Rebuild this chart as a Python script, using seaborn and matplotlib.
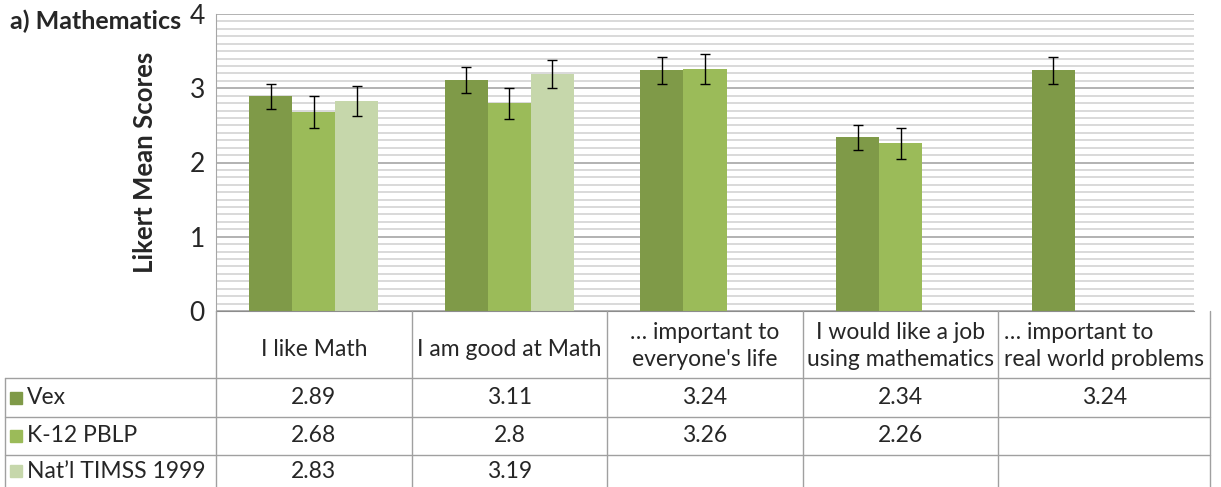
import numpy as np
import pandas as pd
import matplotlib.pyplot as plt
from matplotlib.ticker import MultipleLocator
import seaborn as sns

# Datos
categories = ["I like Math", "I am good at Math", "… important to\neveryone's life",
              "I would like a job\nusing mathematics", "… important to\nreal world problems"]
series = ["Vex", "K-12 PBLP", "Nat’l TIMSS 1999"]
vex = [2.89, 3.11, 3.24, 2.34, 3.24]
k12 = [2.68, 2.8, 3.26, 2.26, np.nan]
timss = [2.83, 3.19, np.nan, np.nan, np.nan]
vex_err = [0.17, 0.17, 0.18, 0.17, 0.18]
k12_err = [0.22, 0.21, 0.20, 0.21, np.nan]
timss_err = [0.20, 0.19, np.nan, np.nan, np.nan]
table_text = [["2.89", "3.11", "3.24", "2.34", "3.24"],
              ["2.68", "2.8", "3.26", "2.26", ""],
              ["2.83", "3.19", "", "", ""]]
colors = ["#7f9a48", "#9bbb59", "#c6d7ab"]

sns.set_style("white")
plt.rcParams["font.family"] = ["Lato", "DejaVu Sans"]

df = pd.DataFrame({
    "category": categories * 3,
    "series": np.repeat(series, len(categories)),
    "score": vex + k12 + timss,
}).dropna()

W, H = 1221, 487
fig = plt.figure(figsize=(W / 100, H / 100), dpi=100)
ax = fig.add_axes([216 / W, 1 - 311 / H, 978 / W, 297 / H])

sns.barplot(data=df, x="category", y="score", hue="series", order=categories,
            hue_order=series, palette=colors, width=0.66, errorbar=None,
            saturation=1, legend=False, linewidth=0, ax=ax)

# Barras de error
errs = dict(zip(series, [vex_err, k12_err, timss_err]))
for name, cont in zip(series, ax.containers):
    for bar in cont:
        i = int(round(bar.get_x() + bar.get_width() / 2))
        ax.errorbar(bar.get_x() + bar.get_width() / 2, bar.get_height(),
                    yerr=errs[name][i], color="black", lw=1, capsize=3.6,
                    capthick=1)

ax.set_xlim(-0.5, len(categories) - 0.5)
ax.set_ylim(0, 4)
ax.set_yticks([0, 1, 2, 3, 4])
ax.yaxis.set_minor_locator(MultipleLocator(0.1))
ax.grid(True, which="major", axis="y", color="#a6a6a6", lw=1.2)
ax.grid(True, which="minor", axis="y", color="#d9d9d9", lw=1.4)
ax.set_axisbelow(True)
ax.tick_params(axis="y", which="both", length=0, labelsize=19, pad=8)
ax.set_xticks([])
ax.set_xlabel("")
ax.set_ylabel("Likert Mean Scores", fontsize=18.5, fontweight="bold")
ax.yaxis.set_label_coords(-0.06, 0.5)
for s in ["top", "right"]:
    ax.spines[s].set_visible(False)
ax.spines["left"].set_color("#a6a6a6")
ax.spines["bottom"].set_color("#8c8c8c")

fig.text(10 / W, 1 - 21 / H, "a) Mathematics", fontsize=18, fontweight="bold",
         va="center", ha="left")

# Tabla de datos debajo del gráfico
tab = fig.add_axes([0, 0, 1, 1])
tab.set_xlim(0, W)
tab.set_ylim(H, 0)
tab.axis("off")

edges = [ax.transData.transform((x, 0))[0] for x in np.arange(-0.5, len(categories))]
edges[-1] = 1210
row_y = [378, 417, 455, H]
line_kw = dict(color="#a0a0a0", lw=1)

tab.plot([edges[-1], edges[-1]], [311, H], **line_kw)
for e in edges[:-1]:
    tab.plot([e, e], [311, H], **line_kw)
tab.plot([5, 5], [row_y[0], H], **line_kw)
for y in row_y[:-1]:
    tab.plot([5, edges[-1]], [y, y], **line_kw)

fs = 16.5
for j, cat in enumerate(categories):
    left, right = edges[j], edges[j + 1]
    align = "left" if j == len(categories) - 1 else "center"
    yc = 346 if "\n" in cat else 349
    tab.text((left + right) / 2, yc, cat, ha="center", va="center",
             fontsize=fs, multialignment=align, linespacing=1.3)

for r, name in enumerate(series):
    yc = (row_y[r] + row_y[r + 1]) / 2
    tab.add_patch(plt.Rectangle((10, yc - 6), 12, 12, color=colors[r]))
    tab.text(27, yc, name, ha="left", va="center", fontsize=fs)
    for j, txt in enumerate(table_text[r]):
        tab.text((edges[j] + edges[j + 1]) / 2, yc, txt, ha="center",
                 va="center", fontsize=fs)

fig.savefig("out.png", dpi=100)
